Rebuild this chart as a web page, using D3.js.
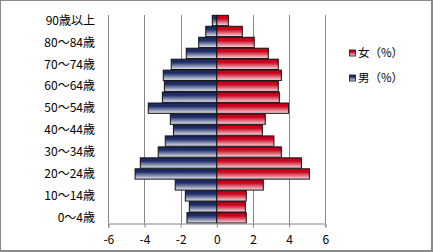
<!DOCTYPE html>
<html><head><meta charset="utf-8">
<script src="https://cdn.jsdelivr.net/npm/d3@7/dist/d3.min.js"></script>
<style>body{margin:0;background:#fff}svg{display:block}</style>
</head><body>
<svg id="c" width="433" height="252"></svg>
<script>
const ages = ["0～4歳","5～9歳","10～14歳","15～19歳","20～24歳","25～29歳","30～34歳","35～39歳","40～44歳","45～49歳","50～54歳","55～59歳","60～64歳","65～69歳","70～74歳","75～79歳","80～84歳","85～89歳","90歳以上"];
const shownLabels = ["0～4歳","10～14歳","20～24歳","30～34歳","40～44歳","50～54歳","60～64歳","70～74歳","80～84歳","90歳以上"];
const male = [-1.65,-1.52,-1.74,-2.3,-4.52,-4.23,-3.24,-2.85,-2.4,-2.57,-3.79,-3.01,-2.9,-2.96,-2.52,-1.69,-1.0,-0.61,-0.25];
const female = [1.63,1.58,1.63,2.57,5.12,4.68,3.57,3.16,2.52,2.68,3.97,3.46,3.4,3.57,3.4,2.85,2.07,1.41,0.64];
const xTicks = [-6,-4,-2,0,2,4,6];
const legendNames = ["女（%）","男（%）"];

const svg = d3.select("#c");
const font = "'Noto Sans CJK JP','Noto Sans',sans-serif";
// border
svg.append("rect").attr("x",0.5).attr("y",0.5).attr("width",431).attr("height",250)
  .attr("fill","#fff").attr("stroke","#8a8a8a").attr("stroke-width",1);
svg.append("line").attr("x1",432).attr("x2",432).attr("y1",0).attr("y2",252).attr("stroke","#8a8a8a").attr("stroke-width",2);
svg.append("line").attr("x1",0).attr("x2",433).attr("y1",251).attr("y2",251).attr("stroke","#8a8a8a").attr("stroke-width",2);

const defs = svg.append("defs");
function grad(id, dark, light){
  const g = defs.append("linearGradient").attr("id",id).attr("x1",0).attr("y1",0).attr("x2",0).attr("y2",1);
  g.append("stop").attr("offset","0%").attr("stop-color",dark);
  g.append("stop").attr("offset","30%").attr("stop-color",dark);
  g.append("stop").attr("offset","100%").attr("stop-color",light);
}
grad("gm","#1d2c66","#e6e9f3");
grad("gf","#c8001c","#f7dde1");

const x = d3.scaleLinear().domain([-6,6]).range([108.3,325.3]);
const y = d3.scaleBand().domain(ages).range([223.3,15]).paddingInner(0.06).paddingOuter(0.03);

// gridlines
svg.append("g").selectAll("line").data(xTicks).join("line")
  .attr("x1",d=>Math.round(x(d))+0.5).attr("x2",d=>Math.round(x(d))+0.5)
  .attr("y1",15).attr("y2",223.3).attr("stroke","#868686").attr("stroke-width",1);

// bars
svg.append("g").selectAll("rect").data(ages.map((a,i)=>({a,v:male[i]}))).join("rect")
  .attr("x",d=>x(d.v)).attr("width",d=>x(0)-x(d.v))
  .attr("y",d=>y(d.a)).attr("height",y.bandwidth())
  .attr("fill","url(#gm)").attr("stroke","#111").attr("stroke-width",1);
svg.append("g").selectAll("rect").data(ages.map((a,i)=>({a,v:female[i]}))).join("rect")
  .attr("x",x(0)).attr("width",d=>x(d.v)-x(0))
  .attr("y",d=>y(d.a)).attr("height",y.bandwidth())
  .attr("fill","url(#gf)").attr("stroke","#111").attr("stroke-width",1);

// x axis
const xa = svg.append("g").attr("transform","translate(0,223.5)")
  .call(d3.axisBottom(x).tickValues(xTicks).tickSize(4).tickPadding(8).tickFormat(d3.format("d")));
xa.select(".domain").attr("stroke","#868686");
xa.selectAll(".tick line").attr("stroke","#868686");
xa.selectAll("text").attr("font-family",font).attr("font-size",12).attr("fill","#000");
xa.selectAll(".tick text").text(d=>d<0?"-"+Math.abs(d):d);

// y labels
svg.append("g").selectAll("text").data(shownLabels).join("text")
  .attr("x",95).attr("y",d=>y(d)+y.bandwidth()/2).attr("dy","0.35em")
  .attr("text-anchor","end").attr("font-family",font).attr("font-size",12).attr("fill","#000")
  .text(d=>d);

// legend
const lg = svg.append("g");
const lgFill = ["url(#gf)","url(#gm)"];
const lgY = [53,78];
legendNames.forEach((n,i)=>{
  lg.append("rect").attr("x",349.5).attr("y",lgY[i]-3).attr("width",6).attr("height",6)
    .attr("fill",lgFill[i]).attr("stroke","#111").attr("stroke-width",0.8);
  lg.append("text").attr("x",358).attr("y",lgY[i]).attr("dy","0.35em")
    .attr("font-family",font).attr("font-size",11.5).attr("fill","#000").text(n);
});
</script>
</body></html>
